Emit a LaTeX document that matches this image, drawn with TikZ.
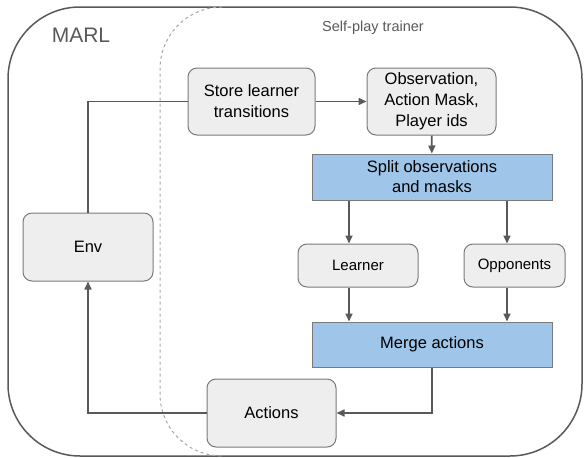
\documentclass[tikz,border=0pt]{standalone}
\usepackage{fontspec}
\setmainfont{Liberation Sans}
\usepackage{tikz}
\usetikzlibrary{shapes, arrows, arrows.meta, positioning, calc}

\definecolor{boxgrey}{HTML}{EEEEEE}
\definecolor{boxblue}{HTML}{9FC5E8}
\definecolor{linegrey}{HTML}{595959}
\definecolor{textgrey}{HTML}{595959}

\begin{document}
\begin{tikzpicture}[x=1pt, y=-1pt, >={Triangle[length=8pt, width=7pt]},
    greybox/.style={draw=linegrey!80, line width=1pt, fill=boxgrey, rounded corners=9pt,
        inner sep=0pt, align=center, font=\fontsize{16.5}{21}\selectfont},
    bluebox/.style={draw=linegrey!80, line width=1pt, fill=boxblue,
        inner sep=0pt, align=center, font=\fontsize{16.5}{20}\selectfont},
    flow/.style={draw=linegrey, line width=1.6pt}]
    \useasboundingbox (0,0) rectangle (584,458);

    % Frames
    \draw[linegrey, line width=1.5pt, rounded corners=72pt] (8,7) rectangle (582,456);
    \draw[gray!70, line width=1pt, dashed, rounded corners=62pt] (222,7) -- (160,7) -- (160,456) -- (222,456);
    \node[textgrey, font=\fontsize{21}{24}\selectfont] (marl) at (81,35) {MARL};
    \node[textgrey, font=\fontsize{14.5}{16}\selectfont] (trainer) at (373,28) {Self-play trainer};

    % Boxes
    \node[greybox, minimum width=127pt, minimum height=67pt] (store) at (251.5,101.5) {Store learner\\transitions};
    \node[greybox, minimum width=129pt, minimum height=67pt] (obs) at (431.5,101.5) {Observation,\\Action Mask,\\Player ids};
    \node[bluebox, minimum width=240pt, minimum height=46pt] (split) at (432,177) {Split observations\\and masks};
    \node[greybox, font=\fontsize{15}{18}\selectfont, minimum width=120pt, minimum height=43pt] (learner) at (358,265.5) {Learner};
    \node[greybox, font=\fontsize{15}{18}\selectfont, minimum width=101pt, minimum height=43pt] (opp) at (514.5,265.5) {Opponents};
    \node[bluebox, minimum width=240pt, minimum height=45pt] (merge) at (432,344.5) {Merge actions};
    \node[greybox, minimum width=129pt, minimum height=68pt] (actions) at (271.5,413) {Actions};
    \node[greybox, minimum width=130pt, minimum height=68pt] (env) at (88,247) {Env};

    % Connectors
    \draw[flow, ->] (store) -- (obs);
    \draw[flow, ->] (obs) -- (split);
    \draw[flow, ->] ($(split.south -| learner.north)+(-9,0)$) -- ($(learner.north)+(-9,0)$);
    \draw[flow, ->] ($(split.south -| opp.north)+(-7.5,0)$) -- ($(opp.north)+(-7.5,0)$);
    \draw[flow, ->] ($(learner.south)+(-9,0)$) -- ($(merge.north -| learner.south)+(-9,0)$);
    \draw[flow, ->] ($(opp.south)+(-7.5,0)$) -- ($(merge.north -| opp.south)+(-7.5,0)$);
    \draw[flow, ->] (merge.south) |- (actions.east);
    \draw[flow] (store.west) -| (env.north);
    \draw[flow, ->] (actions.west) -| (env.south);
\end{tikzpicture}
\end{document}
